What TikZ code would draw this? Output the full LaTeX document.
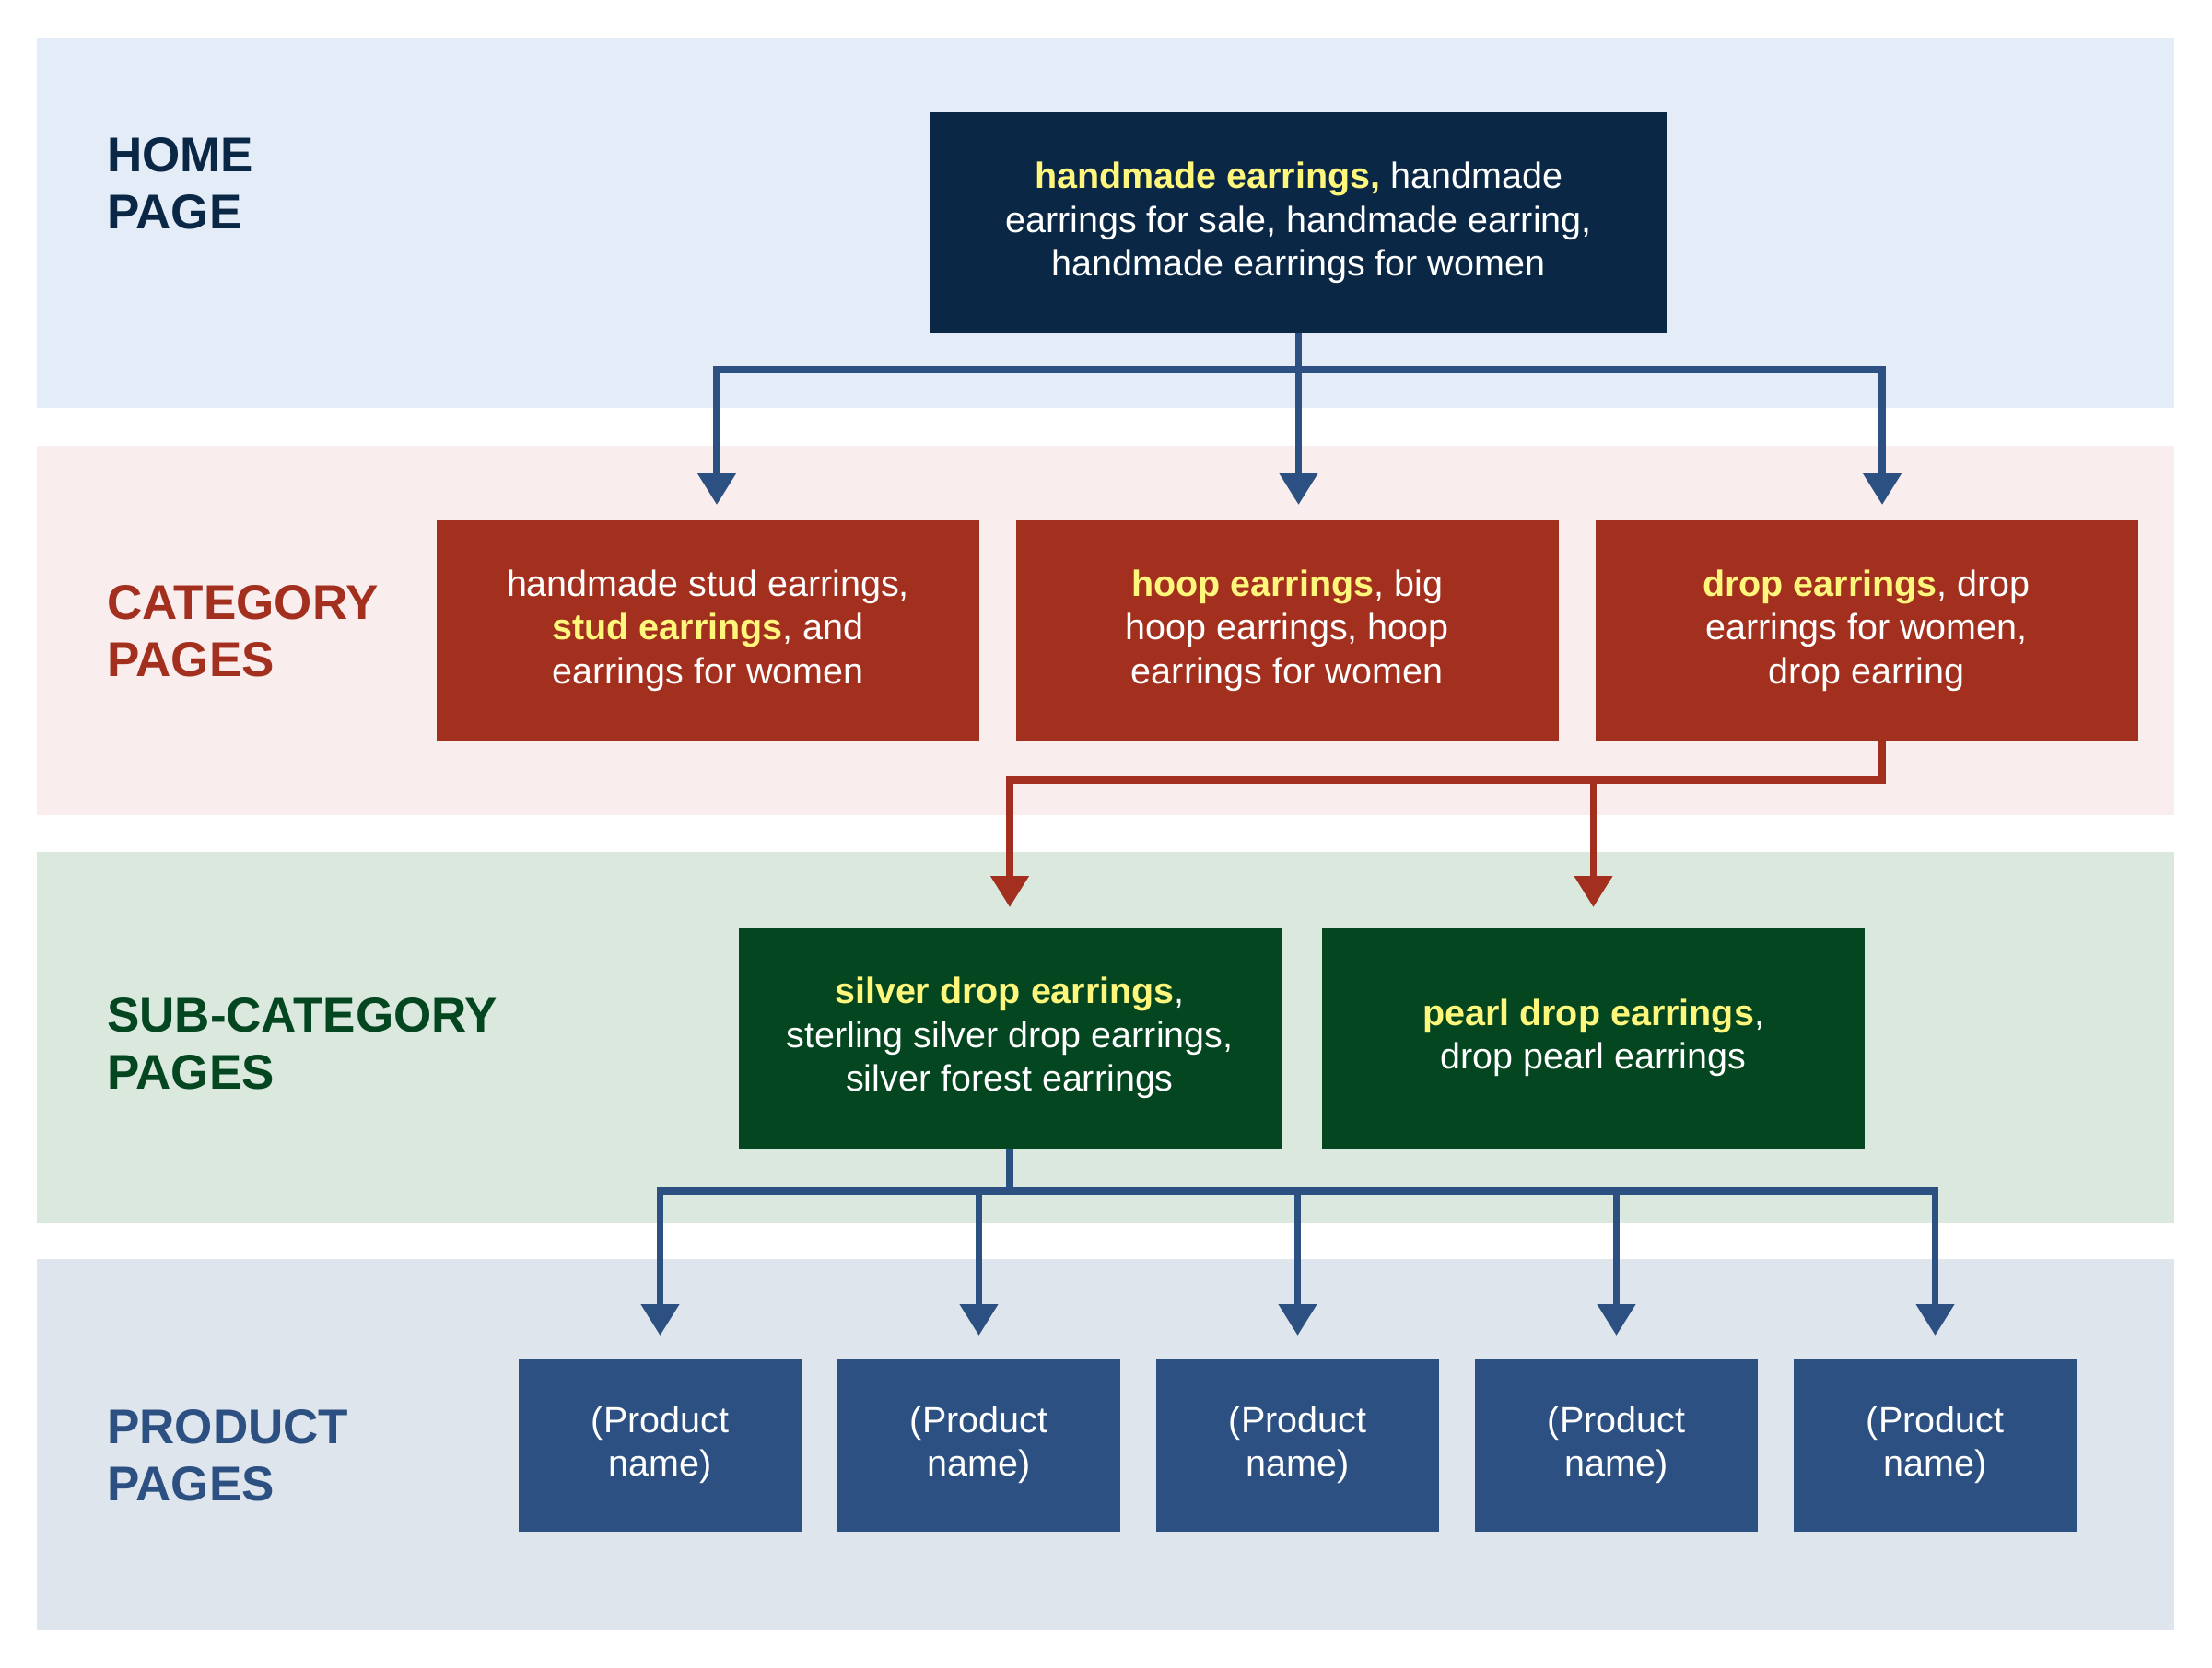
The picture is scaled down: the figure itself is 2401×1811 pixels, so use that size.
\documentclass[tikz,border=0pt]{standalone}
\usepackage{fontspec}
\setmainfont{Liberation Sans}
\usetikzlibrary{arrows.meta}
\definecolor{bandA}{HTML}{E4ECF7}
\definecolor{bandB}{HTML}{F9EDED}
\definecolor{bandC}{HTML}{DAE8DE}
\definecolor{bandD}{HTML}{DFE5ED}
\definecolor{navy}{HTML}{0A2846}
\definecolor{rust}{HTML}{A3301E}
\definecolor{forest}{HTML}{03461F}
\definecolor{prodblue}{HTML}{2C5081}
\definecolor{hl}{HTML}{FFF77C}
\tikzset{
  tri/.tip={Triangle[length=34pt,width=40pt]},
  box/.style={rectangle, inner sep=0pt, text=white, align=center,
    font=\fontsize{39.5}{47.5}\selectfont},
  homebox/.style={box, fill=navy, minimum width=799pt, minimum height=240pt},
  catbox/.style={box, fill=rust, minimum width=589pt, minimum height=239pt},
  subbox/.style={box, fill=forest, minimum width=589pt, minimum height=239pt},
  prodbox/.style={box, fill=prodblue, minimum width=307pt, minimum height=188pt},
  lbl/.style={anchor=base west, inner sep=0pt, align=left,
    font=\fontsize{53}{62}\selectfont\bfseries},
  bconn/.style={draw=prodblue, line width=7.5pt},
  rconn/.style={draw=rust, line width=7.5pt},
}
\newcommand{\hlt}[1]{{\bfseries\color{hl}#1}}
\begin{document}
\begin{tikzpicture}[x=1pt,y=-1pt]
\path[use as bounding box] (0,0) rectangle (2401,1811);
% bands
\fill[bandA] (40,41) rectangle (2360,443);
\fill[bandB] (40,484) rectangle (2360,885);
\fill[bandC] (40,925) rectangle (2360,1328);
\fill[bandD] (40,1367) rectangle (2360,1770);
% labels (anchored at the baseline of the last line)
\node[lbl, text=navy] (lhome) at (116,249) {HOME\\PAGE};
\node[lbl, text=rust] (lcat) at (116,734) {CATEGORY\\PAGES};
\node[lbl, text=forest] (lsub) at (116,1182) {SUB-CATEGORY\\PAGES};
\node[lbl, text=prodblue] (lprod) at (116,1629) {PRODUCT\\PAGES};
% boxes
\node[homebox] (home) at (1409.5,242) {\hlt{handmade earrings,} handmade\\earrings for sale, handmade earring,\\handmade earrings for women};
\node[catbox] (cat1) at (768.5,684.5) {handmade stud earrings,\\\hlt{stud earrings}, and\\earrings for women};
\node[catbox] (cat2) at (1397,684.5) {\hlt{hoop earrings}, big\\hoop earrings, hoop\\earrings for women};
\node[catbox] (cat3) at (2026,684.5) {\hlt{drop earrings}, drop\\earrings for women,\\drop earring};
\node[subbox] (sub1) at (1096,1127) {\hlt{silver drop earrings},\\sterling silver drop earrings,\\silver forest earrings};
\node[subbox] (sub2) at (1729.5,1127) {\hlt{pearl drop earrings},\\drop pearl earrings};
\node[prodbox] (p1) at (716.5,1569) {(Product\\name)};
\node[prodbox] (p2) at (1062.5,1569) {(Product\\name)};
\node[prodbox] (p3) at (1408.5,1569) {(Product\\name)};
\node[prodbox] (p4) at (1754.5,1569) {(Product\\name)};
\node[prodbox] (p5) at (2100.5,1569) {(Product\\name)};
% connector end points
\coordinate (a1) at (778,548);
\coordinate (a2) at (1409.5,548);
\coordinate (a3) at (2043,548);
\coordinate (hj) at (1409.5,401);
\coordinate (rj) at (2043,847);
\coordinate (r1) at (1096,985);
\coordinate (r2) at (1729.5,985);
\coordinate (sj) at (1096,1293);
\coordinate (b1) at (716.5,1450);
\coordinate (b2) at (1062.5,1450);
\coordinate (b3) at (1408.5,1450);
\coordinate (b4) at (1754.5,1450);
\coordinate (b5) at (2100.5,1450);
% home -> categories
\draw[bconn, -tri] (home.south) -- (a2);
\draw[bconn, tri-tri] (a1) |- (hj) -| (a3);
% drop earrings -> sub-categories
\draw[rconn, -tri] (cat3.south -| rj) -- (rj) -| (r1);
\draw[rconn, -tri] (r2 |- rj) -- (r2);
% silver drop -> products
\draw[bconn] (sub1.south) -- (sj);
\draw[bconn, tri-tri] (b1) |- (sj) -| (b5);
\draw[bconn, -tri] (b2 |- sj) -- (b2);
\draw[bconn, -tri] (b3 |- sj) -- (b3);
\draw[bconn, -tri] (b4 |- sj) -- (b4);
\end{tikzpicture}
\end{document}
